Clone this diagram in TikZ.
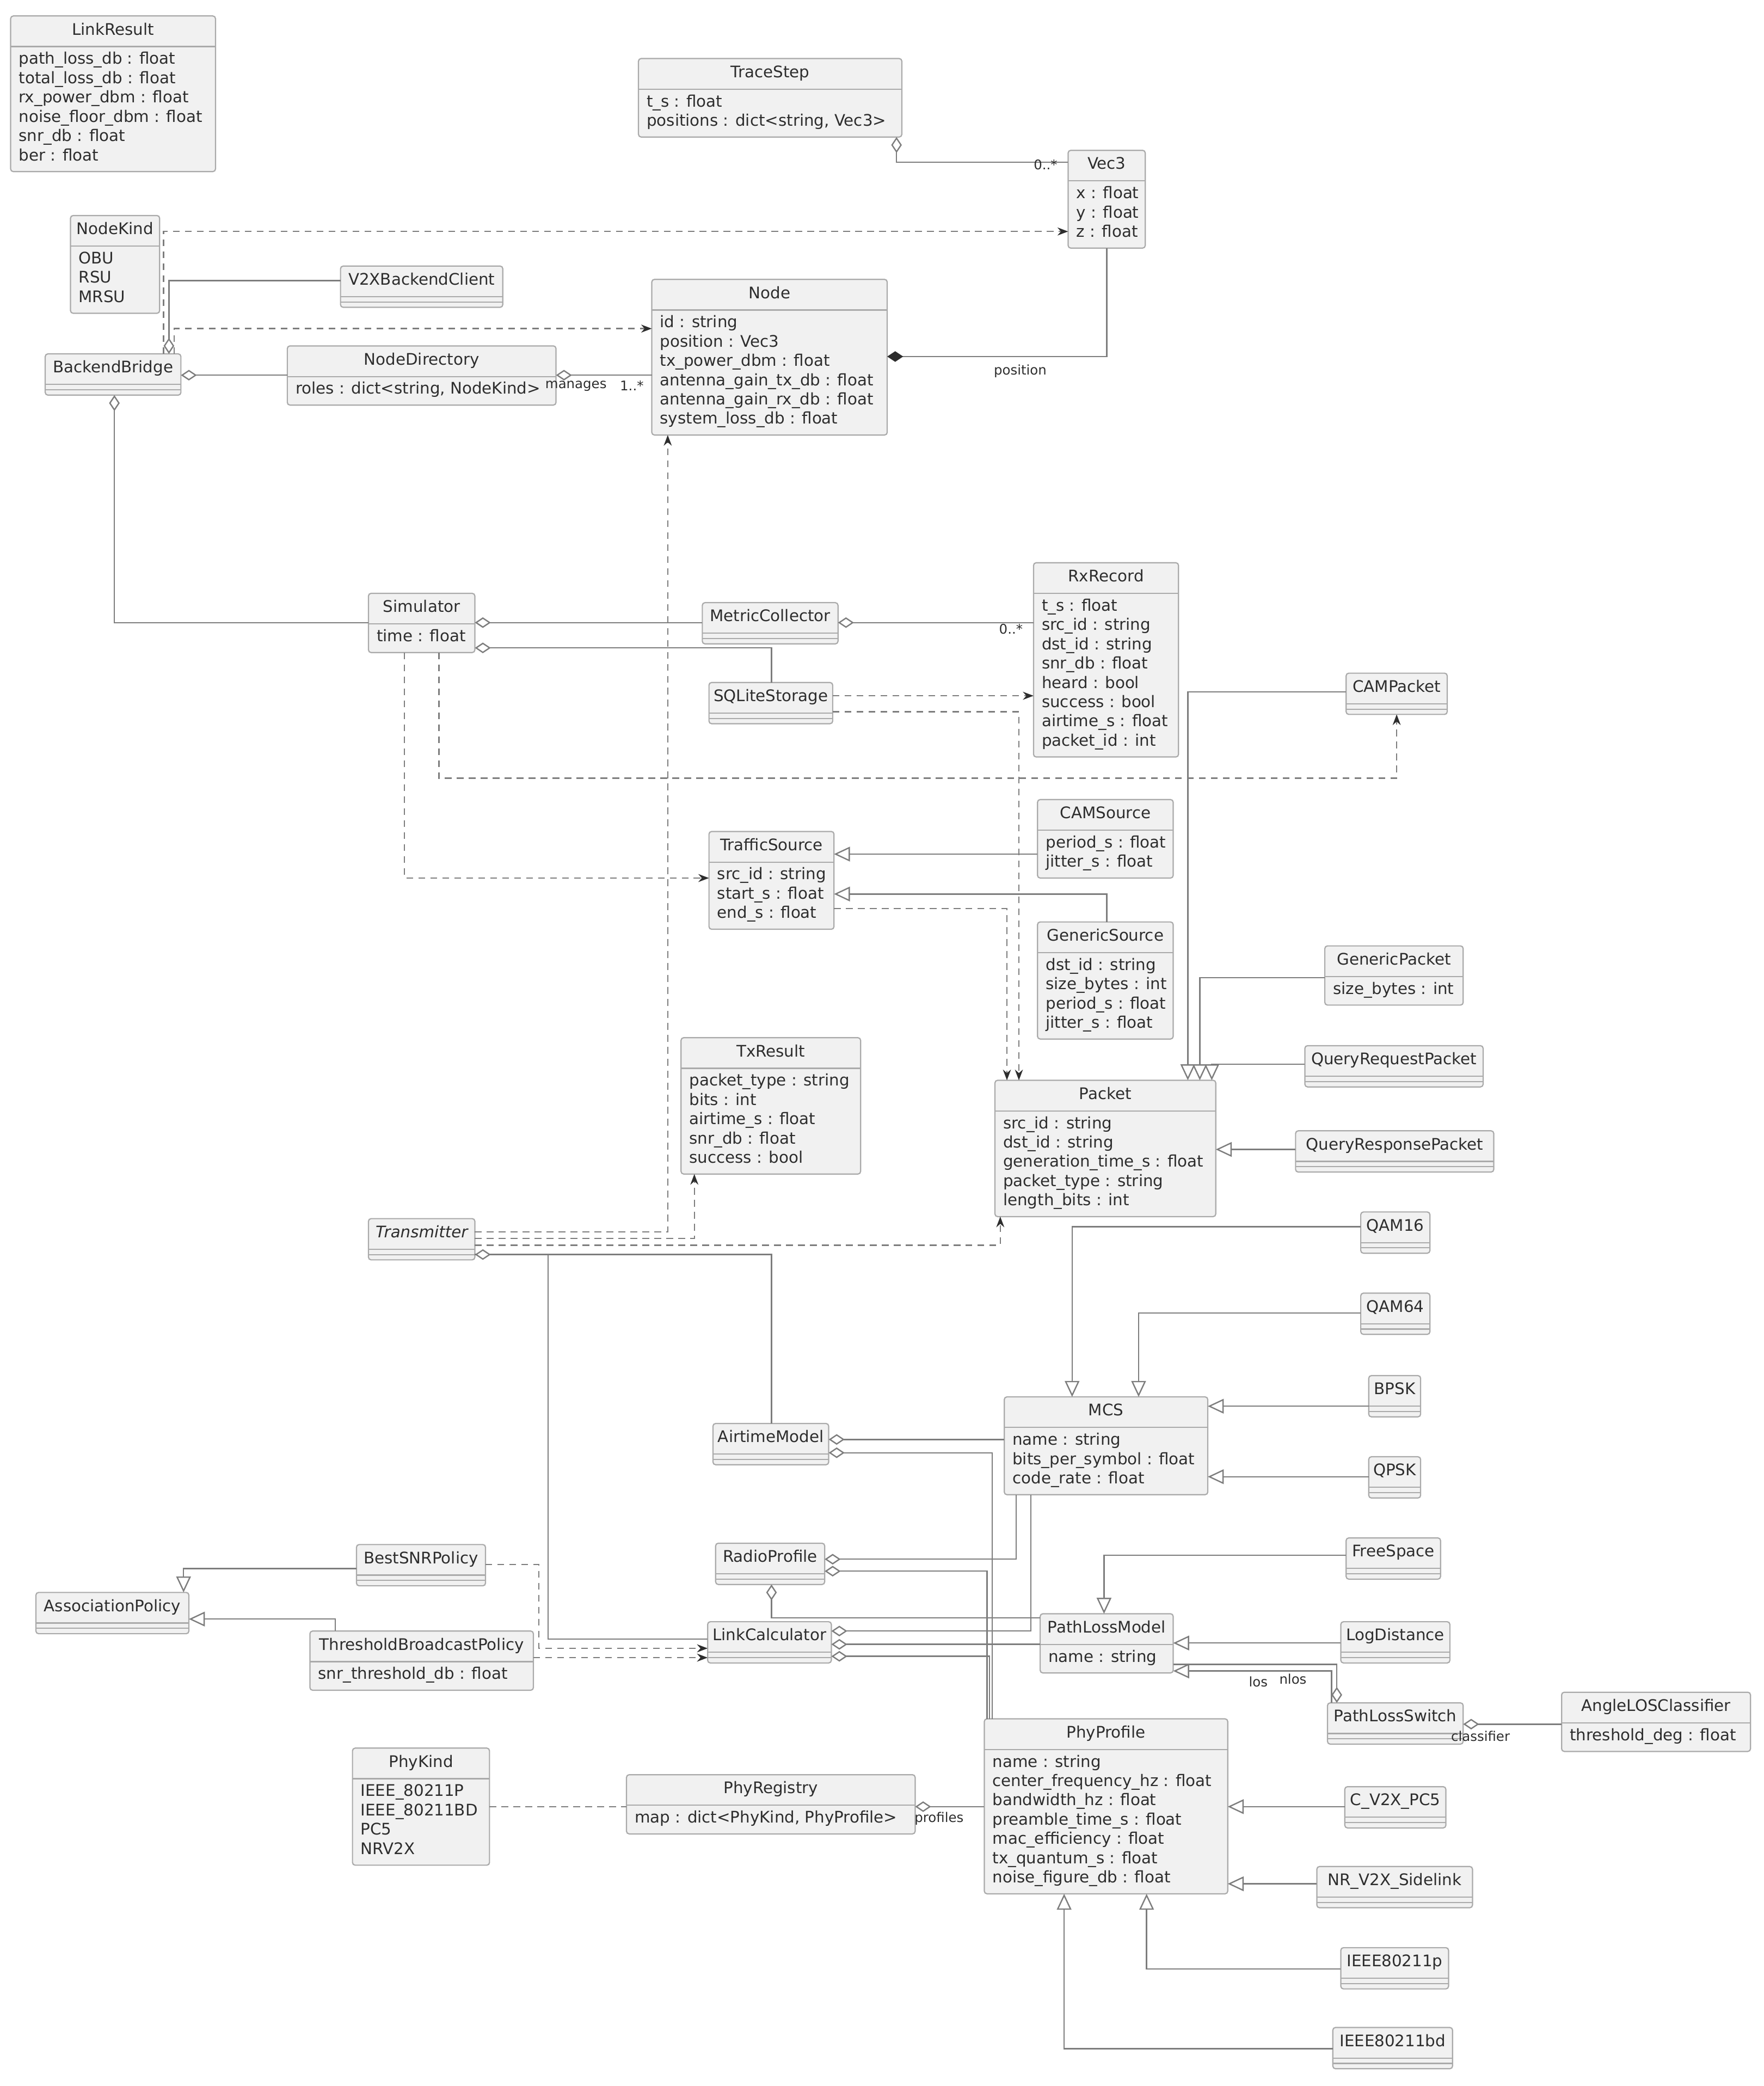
\documentclass[tikz,border=0pt]{standalone}
\usepackage{fontspec}
\setmainfont{DejaVu Sans}
\usetikzlibrary{arrows.meta}
\definecolor{lnc}{RGB}{125,125,125}
\definecolor{boxfill}{RGB}{241,241,241}
\definecolor{boxdraw}{RGB}{170,170,170}
\definecolor{txt}{RGB}{45,45,45}
\tikzset{
 clsbox/.style={draw=boxdraw, fill=boxfill, line width=0.9pt, rounded corners=2pt, inner sep=0pt, outer sep=0pt},
 sepline/.style={draw=boxdraw, line width=0.9pt},
 clstitle/.style={font=\fontsize{12}{14.5}\selectfont, text=txt, inner sep=0pt, anchor=mid},
 attrtxt/.style={font=\fontsize{12}{14.5}\selectfont, text=txt, inner sep=0pt, anchor=mid west},
 lbl/.style={font=\fontsize{10}{12}\selectfont, text=txt, inner sep=0pt},
 conn/.style={draw=lnc, line width=1pt},
 dep/.style={conn, dash pattern=on 5pt off 4pt, -{Stealth[length=8pt,width=6pt,color=txt]}},
 depplain/.style={conn, dash pattern=on 5pt off 4pt},
 gen/.style={conn, -{Triangle[open,fill=white,length=12pt,width=11pt]}},
 agg/.style={conn, {Diamond[open,fill=white,length=12pt,width=8pt]}-},
 comp/.style={conn, {Diamond[length=12pt,width=8pt,color=txt]}-},
}
\newcommand\umlclass[7]{%
 \pgfmathsetmacro\clsh{(#5==0) ? 31 : 30+#5*14.5}%
 \node[clsbox, anchor=north west, minimum width={#4-#2}, minimum height=\clsh] (#1) at (#2,#3) {};
 \node[clstitle] (#1-title) at ({(#2+#4)/2},{#3+11.5}) {#6};
 \draw[sepline] (#2,{#3+23}) -- (#4,{#3+23});
 \ifnum#5=0 \draw[sepline] (#2,{#3+27}) -- (#4,{#3+27});\fi
 \ifnum#5>0 \foreach \atl [count=\ati from 0] in {#7}{\node[attrtxt] (#1-a\ati) at ({#2+6},{#3+33.5+\ati*14.5}) {\atl};}\fi
}
\begin{document}
\begin{tikzpicture}[x=1pt,y=-1pt]
\fill[white] (0,0) rectangle (1326,1568);
\useasboundingbox (0,0) rectangle (1326,1568);

% ---------------- classes ----------------
\umlclass{LinkResult}{8}{12}{162}{6}{LinkResult}{path\_loss\_db : float, total\_loss\_db : float, rx\_power\_dbm : float, noise\_floor\_dbm : float, snr\_db : float, ber : float}
\umlclass{NodeKind}{53}{162}{120}{3}{NodeKind}{OBU, RSU, MRSU}
\umlclass{V2XBackendClient}{256}{200}{378}{0}{V2XBackendClient}{}
\umlclass{BackendBridge}{34}{266}{136}{0}{BackendBridge}{}
\umlclass{NodeDirectory}{216}{260}{418}{1}{NodeDirectory}{{roles : dict<string, NodeKind>}}
\umlclass{Node}{490}{210}{667}{6}{Node}{id : string, position : Vec3, tx\_power\_dbm : float, antenna\_gain\_tx\_db : float, antenna\_gain\_rx\_db : float, system\_loss\_db : float}
\umlclass{TraceStep}{480}{44}{678}{2}{TraceStep}{t\_s : float, {positions : dict<string, Vec3>}}
\umlclass{Vec3}{803}{113}{861}{3}{Vec3}{x : float, y : float, z : float}
\umlclass{Simulator}{277}{446}{357}{1}{Simulator}{time : float}
\umlclass{MetricCollector}{528}{453}{630}{0}{MetricCollector}{}
\umlclass{SQLiteStorage}{533}{513}{626}{0}{SQLiteStorage}{}
\umlclass{RxRecord}{777}{423}{886}{8}{RxRecord}{t\_s : float, src\_id : string, dst\_id : string, snr\_db : float, heard : bool, success : bool, airtime\_s : float, packet\_id : int}
\umlclass{CAMPacket}{1012}{506}{1088}{0}{CAMPacket}{}
\umlclass{TrafficSource}{533}{625}{627}{3}{TrafficSource}{src\_id : string, start\_s : float, end\_s : float}
\umlclass{CAMSource}{780}{601}{882}{2}{CAMSource}{period\_s : float, jitter\_s : float}
\umlclass{GenericSource}{780}{693}{882}{4}{GenericSource}{dst\_id : string, size\_bytes : int, period\_s : float, jitter\_s : float}
\umlclass{GenericPacket}{996}{711}{1100}{1}{GenericPacket}{size\_bytes : int}
\umlclass{QueryRequestPacket}{981}{786}{1115}{0}{QueryRequestPacket}{}
\umlclass{QueryResponsePacket}{974}{850}{1123}{0}{QueryResponsePacket}{}
\umlclass{Packet}{748}{812}{914}{5}{Packet}{src\_id : string, dst\_id : string, generation\_time\_s : float, packet\_type : string, length\_bits : int}
\umlclass{TxResult}{512}{780}{647}{5}{TxResult}{packet\_type : string, bits : int, airtime\_s : float, snr\_db : float, success : bool}
\umlclass{Transmitter}{277}{916}{357}{0}{\itshape Transmitter}{}
\umlclass{QAM16}{1023}{911}{1075}{0}{QAM16}{}
\umlclass{QAM64}{1023}{972}{1075}{0}{QAM64}{}
\umlclass{BPSK}{1029}{1034}{1068}{0}{BPSK}{}
\umlclass{QPSK}{1029}{1095}{1068}{0}{QPSK}{}
\umlclass{MCS}{755}{1050}{908}{3}{MCS}{name : string, bits\_per\_symbol : float, code\_rate : float}
\umlclass{AirtimeModel}{536}{1070}{623}{0}{AirtimeModel}{}
\umlclass{RadioProfile}{538}{1160}{620}{0}{RadioProfile}{}
\umlclass{FreeSpace}{1012}{1156}{1083}{0}{FreeSpace}{}
\umlclass{LogDistance}{1008}{1219}{1090}{0}{LogDistance}{}
\umlclass{PathLossModel}{782}{1213}{882}{1}{PathLossModel}{name : string}
\umlclass{PathLossSwitch}{998}{1280}{1100}{0}{PathLossSwitch}{}
\umlclass{AngleLOSClassifier}{1174}{1272}{1316}{1}{AngleLOSClassifier}{threshold\_deg : float}
\umlclass{BestSNRPolicy}{268}{1161}{365}{0}{BestSNRPolicy}{}
\umlclass{AssociationPolicy}{27}{1197}{142}{0}{AssociationPolicy}{}
\umlclass{ThresholdBroadcastPolicy}{233}{1226}{401}{1}{ThresholdBroadcastPolicy}{snr\_threshold\_db : float}
\umlclass{LinkCalculator}{532}{1219}{625}{0}{LinkCalculator}{}
\umlclass{PhyKind}{265}{1314}{368}{4}{PhyKind}{IEEE\_80211P, IEEE\_80211BD, PC5, NRV2X}
\umlclass{PhyRegistry}{471}{1334}{688}{1}{PhyRegistry}{{map : dict<PhyKind, PhyProfile>}}
\umlclass{PhyProfile}{740}{1292}{923}{7}{PhyProfile}{name : string, center\_frequency\_hz : float, bandwidth\_hz : float, preamble\_time\_s : float, mac\_efficiency : float, tx\_quantum\_s : float, noise\_figure\_db : float}
\umlclass{CVPC}{1011}{1343}{1087}{0}{C\_V2X\_PC5}{}
\umlclass{NRV}{990}{1403}{1107}{0}{NR\_V2X\_Sidelink}{}
\umlclass{IEEEp}{1008}{1464}{1089}{0}{IEEE80211p}{}
\umlclass{IEEEbd}{1002}{1524}{1092}{0}{IEEE80211bd}{}

% ---------------- connectors ----------------
% top area
\draw[agg] (TraceStep.south -| 674,0) -- (674,122) -- (Vec3.west |- 0,122);
\node[lbl] (lblVec) at (786,124) {0..*};
\draw[dep] (BackendBridge.north -| 123,0) -- (123,174) -- (Vec3.west |- 0,174);
\draw[agg] (BackendBridge.north -| 127,0) -- (127,211) -- (V2XBackendClient.west |- 0,211);
\draw[dep] (BackendBridge.north -| 131,0) -- (131,247) -- (Node.west |- 0,247);
\draw[agg] (BackendBridge.east |- 0,282) -- (NodeDirectory.west |- 0,282);
\draw[agg] (NodeDirectory.east |- 0,282) -- (Node.west |- 0,282);
\node[lbl] (lblMan) at (433,290) {manages};
\node[lbl] (lblMany) at (475,290) {1..*};
\draw[comp] (Node.east |- 0,268) -- (832,268) -- (Vec3.south -| 832,0);
\node[lbl] (lblPos) at (767,279) {position};

% simulator area
\draw[agg] (BackendBridge.south -| 86,0) -- (86,468) -- (Simulator.west |- 0,468);
\draw[agg] (Simulator.east |- 0,468) -- (MetricCollector.west |- 0,468);
\draw[agg] (Simulator.east |- 0,487) -- (580,487) -- (SQLiteStorage.north -| 580,0);
\draw[agg] (MetricCollector.east |- 0,468) -- (RxRecord.west |- 0,468);
\node[lbl] (lblRx) at (760,473) {0..*};
\draw[dep] (SQLiteStorage.east |- 0,523) -- (RxRecord.west |- 0,523);
\draw[dep] (SQLiteStorage.east |- 0,535) -- (766,535) -- (Packet.north -| 766,0);
\draw[dep] (Simulator.south -| 330,0) -- (330,585) -- (1050,585) -- (CAMPacket.south -| 1050,0);
\draw[dep] (Simulator.south -| 304,0) -- (304,660) -- (TrafficSource.west |- 0,660);

% traffic sources and packets
\draw[gen] (CAMSource.west |- 0,642) -- (TrafficSource.east |- 0,642);
\draw[gen] (GenericSource.north -| 832,0) -- (832,672) -- (TrafficSource.east |- 0,672);
\draw[dep] (TrafficSource.east |- 0,683) -- (757,683) -- (Packet.north -| 757,0);
\draw[gen] (CAMPacket.west |- 0,520) -- (893,520) -- (Packet.north -| 893,0);
\draw[gen] (GenericPacket.west |- 0,735) -- (902,735) -- (Packet.north -| 902,0);
\draw[gen] (QueryRequestPacket.west |- 0,800) -- (911,800) -- (Packet.north -| 911,0);
\draw[gen] (QueryResponsePacket.west |- 0,864) -- (Packet.east |- 0,864);

% transmitter
\draw[dep] (Transmitter.east |- 0,926) -- (502,926) -- (Node.south -| 502,0);
\draw[dep] (Transmitter.east |- 0,931) -- (522,931) -- (TxResult.south -| 522,0);
\draw[dep] (Transmitter.east |- 0,936) -- (752,936) -- (Packet.south -| 752,0);
\draw[conn] (Transmitter.east |- 0,943) -- (580,943) -- (AirtimeModel.north -| 580,0);
\draw[agg] (Transmitter.east |- 0,943) -- (412,943) -- (412,1232) -- (LinkCalculator.west |- 0,1232);

% MCS
\draw[gen] (QAM16.west |- 0,922) -- (806,922) -- (MCS.north -| 806,0);
\draw[gen] (QAM64.west |- 0,987) -- (856,987) -- (MCS.north -| 856,0);
\draw[gen] (BPSK.west |- 0,1057) -- (MCS.east |- 0,1057);
\draw[gen] (QPSK.west |- 0,1110) -- (MCS.east |- 0,1110);

% airtime / radio / link calculator
\draw[agg] (AirtimeModel.east |- 0,1082) -- (MCS.west |- 0,1082);
\draw[agg] (AirtimeModel.east |- 0,1092) -- (746,1092) -- (PhyProfile.north -| 746,0);
\draw[agg] (RadioProfile.east |- 0,1172) -- (764,1172) -- (MCS.south -| 764,0);
\draw[agg] (RadioProfile.east |- 0,1181) -- (742,1181) -- (PhyProfile.north -| 742,0);
\draw[agg] (RadioProfile.south -| 580,0) -- (580,1216) -- (PathLossModel.west |- 0,1216);
\draw[agg] (LinkCalculator.east |- 0,1226) -- (775,1226) -- (MCS.south -| 775,0);
\draw[agg] (LinkCalculator.east |- 0,1236) -- (PathLossModel.west |- 0,1236);
\draw[agg] (LinkCalculator.east |- 0,1245) -- (744,1245) -- (PhyProfile.north -| 744,0);

% policies
\draw[dep] (BestSNRPolicy.east |- 0,1176) -- (405,1176) -- (405,1239) -- (LinkCalculator.west |- 0,1239);
\draw[dep] (ThresholdBroadcastPolicy.east |- 0,1246) -- (LinkCalculator.west |- 0,1246);
\draw[gen] (BestSNRPolicy.west |- 0,1179) -- (138,1179) -- (AssociationPolicy.north -| 138,0);
\draw[gen] (ThresholdBroadcastPolicy.north -| 252,0) -- (252,1217) -- (AssociationPolicy.east |- 0,1217);

% path loss
\draw[gen] (FreeSpace.west |- 0,1169) -- (830,1169) -- (PathLossModel.north -| 830,0);
\draw[gen] (LogDistance.west |- 0,1235) -- (PathLossModel.east |- 0,1235);
\draw[gen] (PathLossSwitch.north -| 1001,0) -- (1001,1256) -- (PathLossModel.east |- 0,1256);
\draw[agg] (PathLossSwitch.north -| 1005,0) -- (1005,1251) -- (PathLossModel.east |- 0,1251);
\node[lbl] (lblLos) at (946,1264) {los};
\node[lbl] (lblNlos) at (972,1262) {nlos};
\draw[agg] (PathLossSwitch.east |- 0,1296) -- (AngleLOSClassifier.west |- 0,1296);
\node[lbl] (lblCls) at (1113,1305) {classifier};

% phy
\draw[depplain] (PhyKind.east |- 0,1358) -- (PhyRegistry.west |- 0,1358);
\draw[agg] (PhyRegistry.east |- 0,1358) -- (PhyProfile.west |- 0,1358);
\node[lbl] (lblProf) at (706,1367) {profiles};
\draw[gen] (CVPC.west |- 0,1358) -- (PhyProfile.east |- 0,1358);
\draw[gen] (NRV.west |- 0,1416) -- (PhyProfile.east |- 0,1416);
\draw[gen] (IEEEp.west |- 0,1480) -- (862,1480) -- (PhyProfile.south -| 862,0);
\draw[gen] (IEEEbd.west |- 0,1540) -- (800,1540) -- (PhyProfile.south -| 800,0);
\end{tikzpicture}
\end{document}
